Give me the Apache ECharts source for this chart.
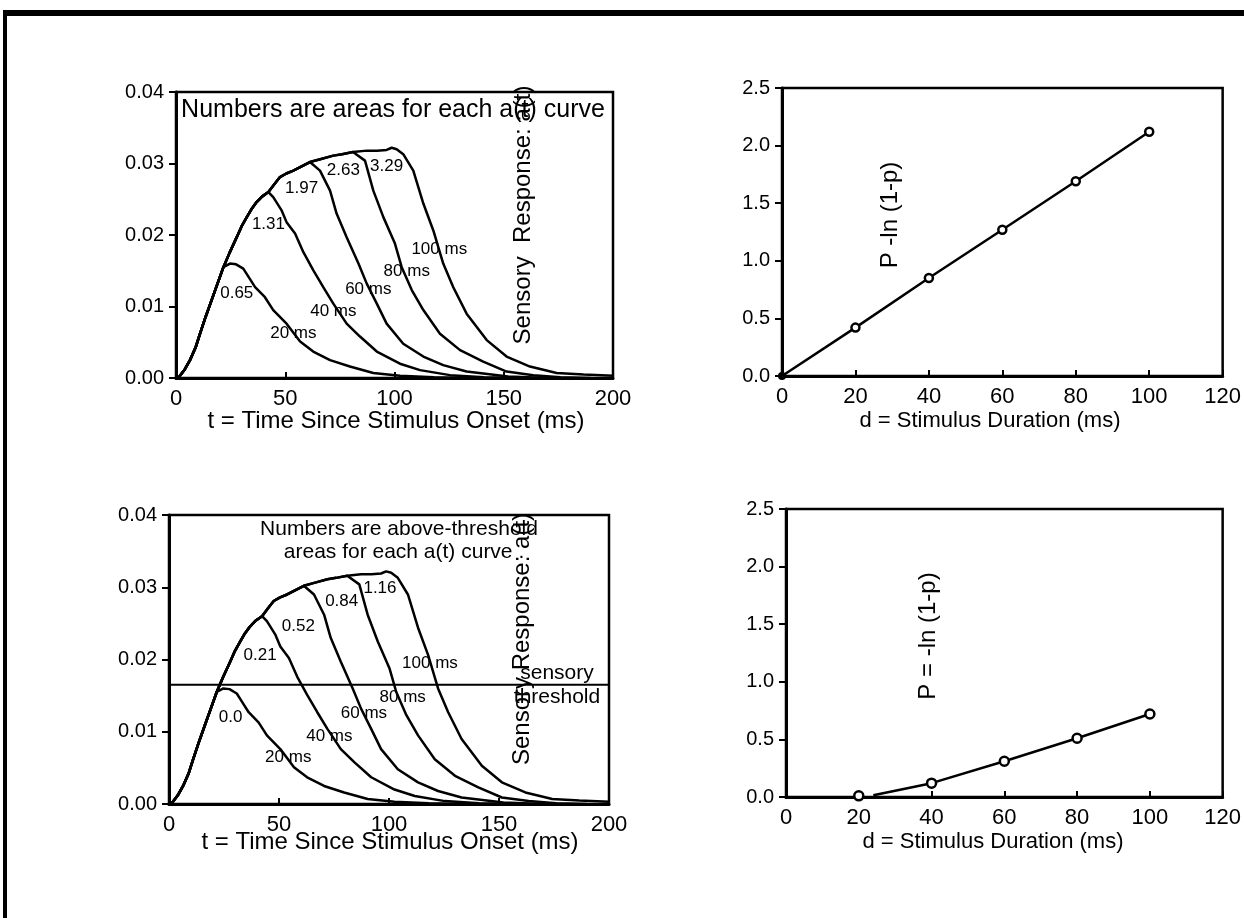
<!DOCTYPE html>
<html><head><meta charset="utf-8">
<script src="https://cdn.jsdelivr.net/npm/echarts@6/dist/echarts.min.js"></script>
<style>html,body{margin:0;padding:0;background:#fff;}#c{width:1244px;height:918px;}</style>
</head><body><div id="c"></div>
<script>
// ---- data ----
const riseCurve = [[1,0],[4,0.0012],[6.4,0.0025],[9,0.0043],[11,0.0062],[13.5,0.0085],[16.3,0.0109],[19,0.0132],[21.7,0.0155],[24.5,0.0175],[27.8,0.0197],[30,0.0212],[32.4,0.0225],[34.5,0.0236],[36.9,0.0246],[39.5,0.0254],[42.3,0.026],[45,0.0271],[47.6,0.0281],[50.5,0.0286],[53.7,0.029],[57.5,0.0296],[61.3,0.0302],[66,0.0306],[72,0.0311],[76,0.0313],[81,0.0316],[87.3,0.0318],[92,0.0318],[96.4,0.0319],[98.7,0.0322]];
const decay20 = [[24.7,0.016],[27.5,0.0159],[30.8,0.0153],[33.5,0.014],[36.2,0.0127],[40.7,0.0113],[44.5,0.0095],[50.6,0.0076],[56.8,0.0051],[62.8,0.0037],[70.5,0.0025],[79.6,0.0016],[90.3,0.0007],[102.5,0.0003],[118,0.0001],[133,0]];
const decay40 = [[42.3,0.026],[44.5,0.0253],[48.4,0.0234],[50.6,0.0218],[54.5,0.0202],[58.3,0.0176],[62.8,0.0151],[67.4,0.0127],[72,0.0104],[78.1,0.0076],[84.2,0.0058],[91.9,0.0037],[102.5,0.002],[111.7,0.0011],[125.4,0.0004],[141,0.0001],[155,0]];
const decay60 = [[61.3,0.0302],[65.9,0.029],[70.5,0.0262],[73.5,0.023],[78.1,0.0197],[83.5,0.016],[87.3,0.0132],[91.9,0.0104],[96.4,0.0076],[104,0.0048],[113.2,0.003],[122.3,0.0018],[133,0.0009],[152,0.0002],[170,0]];
const decay80 = [[81,0.0316],[86.5,0.0304],[90.3,0.0262],[94.9,0.0225],[100.2,0.0188],[103.3,0.0155],[107.9,0.0123],[113.2,0.0095],[120.8,0.0062],[130,0.0039],[140.6,0.0023],[151.3,0.0009],[163.5,0.0004],[176,0.0001],[190,0]];
const decay100 = [[98.7,0.0322],[101,0.032],[104,0.0313],[108.6,0.029],[113.2,0.0244],[117.8,0.0206],[122.3,0.016],[126.9,0.0127],[133,0.009],[142.2,0.0053],[151.3,0.003],[162,0.0016],[174.2,0.0007],[186.5,0.0005],[200,0.0003]];
const decays = [decay20, decay40, decay60, decay80, decay100];
const threshold = 0.0165;

const areasTotal = ['0.65','1.31','1.97','2.63','3.29'];
const areasAbove = ['0.0','0.21','0.52','0.84','1.16'];
const durLabels = ['20 ms','40 ms','60 ms','80 ms','100 ms'];
// annotation anchor points (data coords)
const areaAnchorTop = [[27.8,0.0119],[42.3,0.0215],[57.5,0.0265],[76.6,0.0291],[96.4,0.0296]];
const durAnchorTop = [[53.7,0.0062],[72,0.0093],[88,0.0124],[105.6,0.0149],[120.5,0.018]];
const areaAnchorBot = [[28,0.012],[41.4,0.0206],[58.8,0.0246],[78.5,0.028],[95.9,0.0299]];
const durAnchorBot = [[54.2,0.0065],[72.9,0.0094],[88.6,0.0125],[106.2,0.0148],[118.6,0.0195]];

const durA = [0,20,40,60,80,100];
const pA = [0,0.42,0.85,1.27,1.69,2.12];
const durB = [20,40,60,80,100];
const pB = [0.01,0.12,0.31,0.51,0.72];
const lineB = [[24,0.015],[40,0.12],[60,0.31],[80,0.51],[100,0.72]];

const xTicksLeft = [0,50,100,150,200];
const xTicksRight = [0,20,40,60,80,100,120];

// ---- build ----
const FONT = '"Liberation Sans", Arial, sans-serif';
const chart = echarts.init(document.getElementById('c'), null, {renderer:'canvas'});

function curve(decay){ const pk = decay[0][0]; return riseCurve.filter(p=>p[0] < pk-0.5).concat(decay); }

const grids = [
  {left:176, top:92, width:437, height:286},
  {left:782, top:88, width:444, height:288},
  {left:169, top:515, width:440, height:289},
  {left:786, top:509, width:444, height:288}
].map(g=>Object.assign({show:true, borderColor:'#000', borderWidth:2.5, backgroundColor:'transparent'}, g));

function xAx(gi, ticks){
  return {type:'value', gridIndex:gi, min:ticks[0], max:ticks[ticks.length-1], interval:ticks[1]-ticks[0],
    axisLine:{show:true,onZero:false,lineStyle:{color:'#000',width:3}},
    axisTick:{show:true,inside:true,length:6,lineStyle:{color:'#000',width:2}},
    axisLabel:{color:'#000',fontSize:22,fontFamily:FONT,margin:10, showMinLabel:true, showMaxLabel:true},
    splitLine:{show:false}};
}
function yAx(gi, max, interval, dec){
  return {type:'value', gridIndex:gi, min:0, max:max, interval:interval,
    axisLine:{show:true,onZero:false,lineStyle:{color:'#000',width:3}},
    axisTick:{show:true,inside:false,length:7,lineStyle:{color:'#000',width:2}},
    axisLabel:{color:'#000',fontSize:20,fontFamily:FONT,margin:12, formatter:v=>v.toFixed(dec)},
    splitLine:{show:false}};
}
// inner half of crossing y ticks
function yAxIn(gi, max, interval){
  return {type:'value', gridIndex:gi, min:0, max:max, interval:interval,
    axisLine:{show:false}, axisTick:{show:true,inside:true,length:4,lineStyle:{color:'#000',width:2}},
    axisLabel:{show:false}, splitLine:{show:false}};
}

const series = [];
[0,2].forEach((gi, k)=>{
  decays.forEach(d=>{
    series.push({type:'line', xAxisIndex:gi, yAxisIndex:gi, data:curve(d), symbol:'none', smooth:false,
      lineStyle:{color:'#000', width:2.5}, z:3, silent:true});
  });
  const areas = k===0 ? areasTotal : areasAbove;
  const aAnch = k===0 ? areaAnchorTop : areaAnchorBot;
  const dAnch = k===0 ? durAnchorTop : durAnchorBot;
  const ann = areas.map((t,i)=>[aAnch[i][0], aAnch[i][1], t]).concat(durLabels.map((t,i)=>[dAnch[i][0], dAnch[i][1], t]));
  series.push({type:'scatter', xAxisIndex:gi, yAxisIndex:gi, data:ann, symbolSize:0.1, z:5, silent:true,
    itemStyle:{color:'#000', opacity:1},
    label:{show:true, position:'inside', formatter:p=>p.data[2], color:'#000', fontSize:17, fontFamily:FONT,
      textBorderWidth:0, textBorderColor:'transparent', opacity:1}});
});
// threshold line in bottom-left
series.push({type:'line', xAxisIndex:2, yAxisIndex:2, data:[[0,threshold],[200,threshold]], symbol:'none',
  lineStyle:{color:'#000', width:2}, silent:true});

// top-right
series.push({type:'line', xAxisIndex:1, yAxisIndex:1, data:durA.map((d,i)=>[d,pA[i]]), symbol:'none',
  lineStyle:{color:'#000', width:2.5}, silent:true});
series.push({type:'scatter', xAxisIndex:1, yAxisIndex:1, data:durA.slice(1).map((d,i)=>[d,pA[i+1]]), symbol:'circle', symbolSize:8,
  itemStyle:{color:'#fff', borderColor:'#000', borderWidth:2.5, opacity:1}, z:4, silent:true});
series.push({type:'scatter', xAxisIndex:1, yAxisIndex:1, data:[[durA[0],pA[0]]], symbol:'circle', symbolSize:8,
  itemStyle:{color:'#000', opacity:1}, z:4, silent:true});
// bottom-right
series.push({type:'line', xAxisIndex:3, yAxisIndex:3, data:lineB, symbol:'none',
  lineStyle:{color:'#000', width:2.5}, silent:true});
series.push({type:'scatter', xAxisIndex:3, yAxisIndex:3, data:durB.map((d,i)=>[d,pB[i]]), symbol:'circle', symbolSize:9,
  itemStyle:{color:'#fff', borderColor:'#000', borderWidth:2.5, opacity:1}, z:4, silent:true});

function txt(x, y, text, size, rot){
  return {type:'text', x:x, y:y, rotation:rot||0, z:10, silent:true,
    style:{text:text, fill:'#000', font: size+'px '+FONT, textAlign:'center', textVerticalAlign:'middle'}};
}

const graphic = [
  {type:'rect', shape:{x:3, y:10, width:1241, height:6}, style:{fill:'#000'}, silent:true},
  {type:'rect', shape:{x:3, y:10, width:4, height:908}, style:{fill:'#000'}, silent:true},
  txt(393, 110, 'Numbers are areas for each a(t) curve', 25),
  txt(523, 215, 'Sensory  Response: a(t)', 24, Math.PI/2),
  txt(396, 421, 't = Time Since Stimulus Onset (ms)', 24),
  txt(890, 215, 'P -ln (1-p)', 24, Math.PI/2),
  txt(990, 421, 'd = Stimulus Duration (ms)', 22),
  txt(399, 529, 'Numbers are above-threshold', 21),
  txt(404, 552, 'areas for each a(t) curve .', 21),
  txt(522, 639, 'Sensory Response: a(t)', 24, Math.PI/2),
  txt(557, 673, 'sensory', 21),
  txt(557, 697, 'threshold', 21),
  txt(390, 842, 't = Time Since Stimulus Onset (ms)', 24),
  txt(928, 636, 'P = -ln (1-p)', 24, Math.PI/2),
  txt(993, 842, 'd = Stimulus Duration (ms)', 22)
];

chart.setOption({
  animation:false,
  backgroundColor:'#fff',
  grid: grids,
  xAxis: [xAx(0, xTicksLeft), xAx(1, xTicksRight), xAx(2, xTicksLeft), xAx(3, xTicksRight)],
  yAxis: [yAx(0,0.04,0.01,2), yAx(1,2.5,0.5,1), yAx(2,0.04,0.01,2), yAx(3,2.5,0.5,1),
          yAxIn(0,0.04,0.01), yAxIn(1,2.5,0.5), yAxIn(2,0.04,0.01), yAxIn(3,2.5,0.5)],
  series: series,
  graphic: graphic
});
</script>
</body></html>
